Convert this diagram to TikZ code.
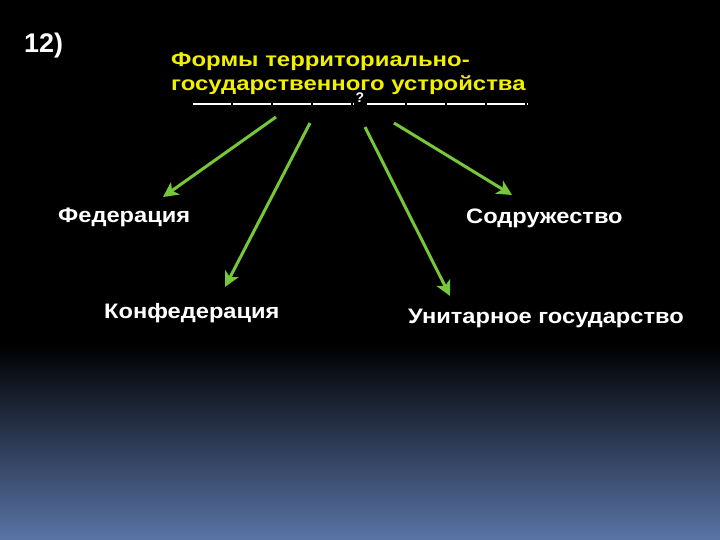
\documentclass[tikz,border=0pt]{standalone}
\usepackage{fontspec}
\setmainfont{Liberation Sans}
\newfontfamily\labelfont[FakeStretch=1.13]{Liberation Sans}
\newfontfamily\titlefont[FakeStretch=1.2]{Liberation Sans}
\usetikzlibrary{arrows.meta}
\definecolor{arrowgreen}{RGB}{118,200,56}
\definecolor{titleyellow}{RGB}{240,240,0}
\definecolor{bottomblue}{RGB}{90,116,166}
\tikzset{
  label/.style={text=white, font=\labelfont\bfseries\fontsize{21}{24}\selectfont, inner sep=0pt, anchor=base west},
  branch/.style={draw=arrowgreen, line width=3bp, -{Stealth[length=15bp,width=15bp,inset=4bp]}},
  uline/.style={draw=white, line width=1.8bp, dash pattern=on 38bp off 2bp},
}
\begin{document}
\begin{tikzpicture}[x=1bp,y=-1bp]
\useasboundingbox (0,0) rectangle (720,540);
\fill[black] (0,0) rectangle (720,346);
\shade[top color=black, bottom color=bottomblue] (0,345) rectangle (720,540);
% number
\node[text=white, font=\bfseries\fontsize{27}{30}\selectfont, inner sep=0pt, anchor=base west] (num) at (24,53) {12)};
% partly hidden question mark
\node[text=white, font=\bfseries\fontsize{14}{16}\selectfont, inner sep=0pt, anchor=base] (q) at (360,103) {?};
% title
\node[text=titleyellow, font=\titlefont\bfseries\fontsize{20}{25}\selectfont, inner sep=0pt, anchor=base west, align=left] (title) at (171,91)
  {Формы территориально-\\государственного устройства};
% underlines
\coordinate (u1a) at (193,104);
\coordinate (u1b) at (354,104);
\coordinate (u2a) at (367,104);
\coordinate (u2b) at (528,104);
\draw[uline] (u1a) -- (u1b);
\draw[uline] (u2a) -- (u2b);
% labels
\node[label] (fed) at (58,223) {Федерация};
\node[label] (sod) at (466,224) {Содружество};
\node[label] (konf) at (104,318) {Конфедерация};
\node[label] (unit) at (408,323) {Унитарное государство};
% arrow endpoints
\coordinate (s1) at (276,117);
\coordinate (e1) at (163,197);
\coordinate (s2) at (310,123);
\coordinate (e2) at (225,287);
\coordinate (s3) at (365,127);
\coordinate (e3) at (450,296);
\coordinate (s4) at (394,123);
\coordinate (e4) at (512,195);
\draw[branch] (s1) -- (e1);
\draw[branch] (s2) -- (e2);
\draw[branch] (s3) -- (e3);
\draw[branch] (s4) -- (e4);
\end{tikzpicture}
\end{document}
